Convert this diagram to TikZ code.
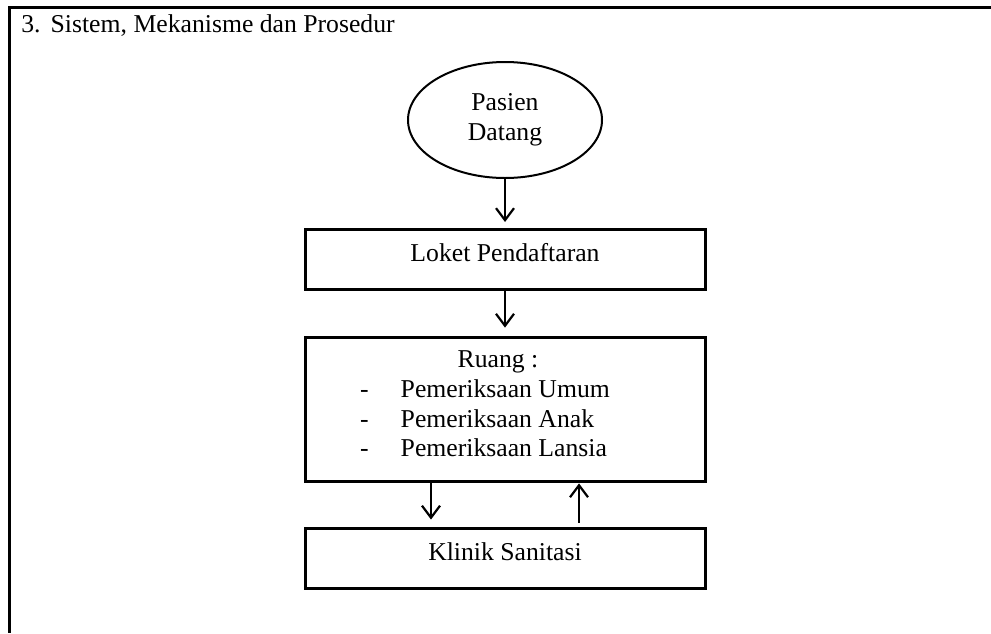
\documentclass[tikz,border=0pt]{standalone}
\usepackage{fontspec}
\setmainfont{Liberation Serif}
\usetikzlibrary{shapes.geometric,arrows.meta}
\begin{document}
\begin{tikzpicture}[x=0.5pt,y=-0.5pt,font=\fontsize{12.85}{14.85}\selectfont,
    box/.style={rectangle,draw,line width=1.5pt,minimum width=200pt,inner xsep=0pt},
    onebox/.style={box,text height=9pt,text depth=7pt,inner ysep=7pt},
    arr/.style={-{Straight Barb[length=6pt,width=9pt]},line width=1.1pt}]
    \useasboundingbox (0,0) rectangle (991,633);
    \draw[line width=1.5pt] (991,7.5) -| (9.7,633);
    \node[anchor=base west,inner sep=0pt] (title) at (21,32) {3.\hspace{5pt}Sistem, Mekanisme dan Prosedur};
    \node[ellipse,draw,line width=1pt,minimum width=97pt,minimum height=58pt,inner sep=0pt,align=center] (pasien) at (505,120) {Pasien\\Datang};
    \node[onebox] (loket) at (505,259.5) {Loket Pendaftaran};
    \node[box,inner ysep=5pt] (ruang) at (505,409.5) {\begin{tabular}{@{}l@{\hspace{16pt}}l@{\hspace{20pt}}}
        \multicolumn{2}{@{}c@{}}{Ruang :\kern7pt}\\
        - & Pemeriksaan Umum\\
        - & Pemeriksaan Anak\\
        - & Pemeriksaan Lansia\\[3pt]
    \end{tabular}};
    \node[onebox] (klinik) at (505,558) {Klinik Sanitasi};
    \draw[arr,shorten >=3pt] (pasien.south) -- (loket.north);
    \draw[arr,shorten >=4pt] (loket.south) -- (ruang.north);
    \draw[arr,shorten >=3.5pt] ([xshift=-37pt]ruang.south) -- ([xshift=-37pt]klinik.north);
    \draw[arr,shorten <=2pt] ([xshift=37pt]klinik.north) -- ([xshift=37pt]ruang.south);
\end{tikzpicture}
\end{document}
